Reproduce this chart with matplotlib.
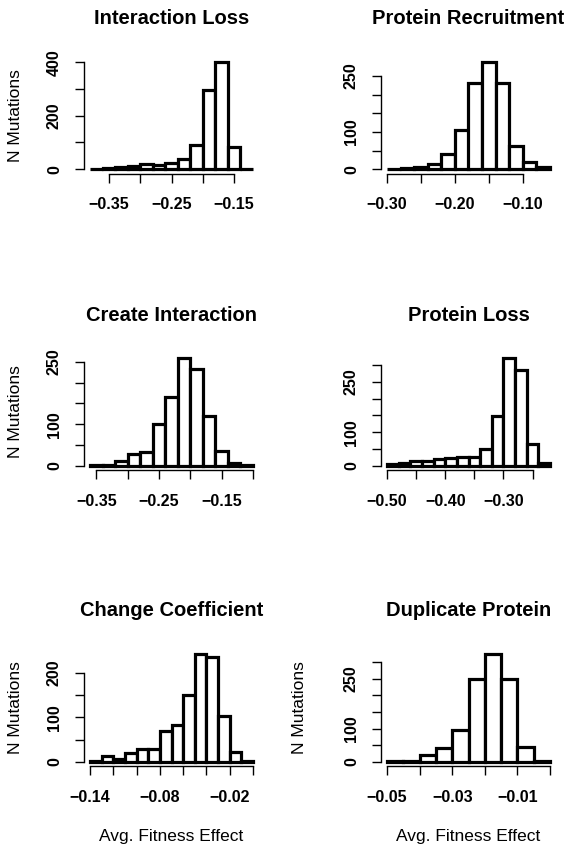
import numpy as np
import matplotlib
matplotlib.use('Agg')
import matplotlib.pyplot as plt

plt.rcParams['font.family'] = ['Liberation Sans', 'DejaVu Sans']

titles = ["Interaction Loss", "Protein Recruitment", "Create Interaction",
          "Protein Loss", "Change Coefficient", "Duplicate Protein"]

# histogram bins: left edge of first bin, bin width, counts per bin
bin_starts = [-0.38, -0.30, -0.36, -0.50, -0.14, -0.05]
bin_widths = [0.02, 0.02, 0.02, 0.02, 0.01, 0.005]

counts_interaction_loss = [2, 5, 10, 12, 19, 16, 24, 40, 91, 298, 402, 82, 2]
counts_protein_recruitment = [1, 2, 5, 13, 41, 106, 230, 288, 230, 63, 19, 7]
counts_create_interaction = [1, 2, 12, 28, 34, 100, 166, 259, 233, 120, 35, 7, 1]
counts_protein_loss = [6, 9, 13, 15, 20, 22, 27, 25, 50, 148, 320, 286, 66, 8]
counts_change_coefficient = [2, 12, 7, 19, 29, 29, 70, 83, 151, 242, 235, 104, 22, 2]
counts_duplicate_protein = [1, 1, 21, 41, 97, 249, 324, 248, 45, 2]

all_counts = [counts_interaction_loss, counts_protein_recruitment,
              counts_create_interaction, counts_protein_loss,
              counts_change_coefficient, counts_duplicate_protein]

x_ticks = [
    [-0.35, -0.30, -0.25, -0.20, -0.15],
    [-0.30, -0.25, -0.20, -0.15, -0.10],
    [-0.35, -0.30, -0.25, -0.20, -0.15, -0.10],
    [-0.50, -0.45, -0.40, -0.35, -0.30, -0.25],
    [-0.14, -0.12, -0.10, -0.08, -0.06, -0.04, -0.02, 0.00],
    [-0.05, -0.04, -0.03, -0.02, -0.01, 0.00],
]
x_labels = [
    ["\u22120.35", "", "\u22120.25", "", "\u22120.15"],
    ["\u22120.30", "", "\u22120.20", "", "\u22120.10"],
    ["\u22120.35", "", "\u22120.25", "", "\u22120.15", ""],
    ["\u22120.50", "", "\u22120.40", "", "\u22120.30", ""],
    ["\u22120.14", "", "", "\u22120.08", "", "", "\u22120.02", ""],
    ["\u22120.05", "", "\u22120.03", "", "\u22120.01", ""],
]
y_ticks = [
    [0, 100, 200, 300, 400],
    [0, 50, 100, 150, 200, 250],
    [0, 50, 100, 150, 200, 250],
    [0, 50, 100, 150, 200, 250, 300],
    [0, 50, 100, 150, 200],
    [0, 50, 100, 150, 200, 250, 300],
]
y_labels = [
    ["0", "", "200", "", "400"],
    ["0", "", "100", "", "", "250"],
    ["0", "", "100", "", "", "250"],
    ["0", "", "100", "", "", "250", ""],
    ["0", "", "100", "", "200"],
    ["0", "", "100", "", "", "250", ""],
]
show_ylabel = [True, False, True, False, True, True]
show_xlabel = [False, False, False, False, True, True]

W, H = 568, 846
fig = plt.figure(figsize=(W / 100, H / 100), dpi=100)

col_left = [83.5, 380.5]
row_top = [57.5, 354, 650]
ax_w, ax_h = 176, 116

for i in range(6):
    r, c = divmod(i, 2)
    left = col_left[c] / W
    bottom = (H - row_top[r] - ax_h) / H
    ax = fig.add_axes([left, bottom, ax_w / W, ax_h / H])

    counts = np.array(all_counts[i])
    edges = bin_starts[i] + bin_widths[i] * np.arange(len(counts) + 1)
    ax.bar(edges[:-1], counts, width=bin_widths[i], align='edge',
           facecolor='white', edgecolor='black', linewidth=2.3)

    xr = edges[-1] - edges[0]
    ax.set_xlim(edges[0] - 0.04 * xr, edges[-1] + 0.04 * xr)
    ym = counts.max()
    ax.set_ylim(-0.04 * ym, 1.04 * ym)

    for s in ['top', 'right']:
        ax.spines[s].set_visible(False)
    ax.spines['left'].set_bounds(y_ticks[i][0], y_ticks[i][-1])
    ax.spines['bottom'].set_bounds(x_ticks[i][0], x_ticks[i][-1])
    for s in ['left', 'bottom']:
        ax.spines[s].set_linewidth(1.0)

    ax.set_xticks(x_ticks[i])
    ax.set_xticklabels(x_labels[i], fontsize=11.5, fontweight='bold')
    ax.set_yticks(y_ticks[i])
    ax.set_yticklabels(y_labels[i], fontsize=11.5, fontweight='bold',
                       rotation=90, va='center')
    ax.tick_params(direction='out', length=6.5, width=1.0)
    ax.tick_params(axis='x', pad=10.5)
    ax.tick_params(axis='y', pad=9)

    ax.set_title(titles[i], fontsize=14.5, fontweight='bold',
                 y=1 + 39 / ax_h, va='center', pad=0)

    if show_ylabel[i]:
        ax.set_ylabel("N Mutations", fontsize=12.5, va='center')
        ax.yaxis.set_label_coords((16 + 284 * c - col_left[c]) / ax_w, 0.5)
    if show_xlabel[i]:
        ax.set_xlabel("Avg. Fitness Effect", fontsize=12.5, va='center')
        ax.xaxis.set_label_coords(0.5, -70 / ax_h)

fig.savefig("out.png", dpi=100)
